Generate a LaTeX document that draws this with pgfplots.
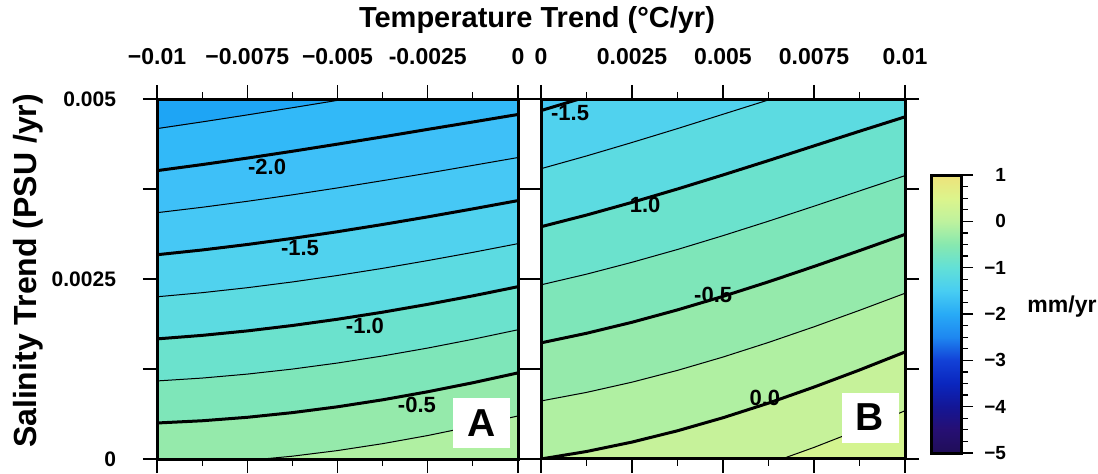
\documentclass[border=0pt]{standalone}
\usepackage{fontspec}
\setmainfont{Liberation Sans}
\usepackage{pgfplots}
\pgfplotsset{compat=1.18}

\tikzset{
  cthin/.style={black, line width=0.5bp},
  cthick/.style={black, line width=1.5bp},
  clab/.style={font=\bfseries\fontsize{11bp}{12bp}\selectfont, inner sep=0pt},
  plab/.style={fill=white, minimum width=28.5bp, minimum height=25bp, inner sep=0pt,
    font=\bfseries\fontsize{19.5bp}{22bp}\selectfont},
}
\pgfplotsset{
  colormap={cbar}{
    rgb255(0cm)=(32,14,88) rgb255(0.5cm)=(38,15,115) rgb255(1cm)=(20,22,150)
    rgb255(1.5cm)=(10,38,190) rgb255(2cm)=(18,65,215) rgb255(2.5cm)=(30,135,240)
    rgb255(3cm)=(40,170,246) rgb255(3.5cm)=(72,205,242) rgb255(4cm)=(98,224,215)
    rgb255(4.5cm)=(135,232,175) rgb255(5cm)=(190,242,158) rgb255(5.5cm)=(220,244,140)
    rgb255(6cm)=(238,226,122)
  },
  colormap={bands}{
    rgb255(0cm)=(34,14,95) rgb255(0.25cm)=(36,15,108) rgb255(0.5cm)=(34,17,124)
    rgb255(0.75cm)=(24,20,141) rgb255(1cm)=(18,26,160) rgb255(1.25cm)=(12,34,180)
    rgb255(1.5cm)=(12,45,196) rgb255(1.75cm)=(16,58,209) rgb255(2cm)=(21,80,221)
    rgb255(2.25cm)=(27,120,235) rgb255(2.5cm)=(30,165,245) rgb255(2.75cm)=(50,185,248)
    rgb255(3cm)=(62,192,248) rgb255(3.25cm)=(70,200,245) rgb255(3.5cm)=(80,210,238)
    rgb255(3.75cm)=(92,219,225) rgb255(4cm)=(107,226,205) rgb255(4.25cm)=(126,230,185)
    rgb255(4.5cm)=(149,234,171) rgb255(4.75cm)=(176,240,162) rgb255(5cm)=(198,242,154)
    rgb255(5.25cm)=(212,244,144) rgb255(5.5cm)=(224,240,136) rgb255(5.75cm)=(234,230,126)
    rgb255(6cm)=(238,226,122)
  },
  panel/.style={
    scale only axis, height=180bp,
    ymin=0, ymax=5,
    axis on top,
    point meta min=-5, point meta max=1,
    colormap name=cbar,
    xticklabel pos=upper, xtick pos=both,
    ytick={0,1.25,2.5,3.75,5},
    ytick pos=both, yticklabel pos=left,
    tick align=outside,
    major tick length=7bp, minor tick length=3.5bp,
    tick style={black, line width=0.6bp},
    axis line style={line width=1.5bp},
    xticklabel style={font=\bfseries\fontsize{11.5bp}{13bp}\selectfont, yshift=6.5bp},
    yticklabel style={font=\bfseries\fontsize{10.5bp}{13bp}\selectfont, xshift=-10bp},
  },
  field/.style={surf, shader=interp, colormap name=bands,
    colormap access=piecewise constant, point meta=explicit, mesh/cols=9},
}

\begin{document}
\begin{tikzpicture}
\useasboundingbox (-78.5bp,-7.5bp) rectangle (470.5bp,229.5bp);

% ---------------- Panel A ----------------
\begin{axis}[panel, name=A, at={(0,0)}, anchor=south west,
  width=180.5bp, xmin=-10, xmax=0,
  xtick={-10,-7.5,-5,-2.5,0},
  xticklabels={−0.01,−0.0075,−0.005,-0.0025,0},
  minor xtick={-8.75,-6.25,-3.75,-1.25},
  yticklabels={0,,0.0025,,0.005},
]
\addplot[field] table[x=x, y=y, meta=v] {
x y v
-10 0 -0.286
-8.75 0 -0.2761
-7.5 0 -0.2588
-6.25 0 -0.2341
-5 0 -0.202
-3.75 0 -0.1626
-2.5 0 -0.1158
-1.25 0 -0.0616
0 0 0.0
-10 1.25 -0.821
-8.75 1.25 -0.8031
-7.5 1.25 -0.7796
-6.25 1.25 -0.7506
-5 1.25 -0.716
-3.75 1.25 -0.6760
-2.5 1.25 -0.6304
-1.25 1.25 -0.5792
0 1.25 -0.5225
-10 2.5 -1.356
-8.75 2.5 -1.3301
-7.5 2.5 -1.3004
-6.25 2.5 -1.2671
-5 2.5 -1.230
-3.75 2.5 -1.1893
-2.5 2.5 -1.1449
-1.25 2.5 -1.0968
0 2.5 -1.045
-10 3.75 -1.891
-8.75 3.75 -1.8570
-7.5 3.75 -1.8212
-6.25 3.75 -1.7835
-5 3.75 -1.744
-3.75 3.75 -1.7027
-2.5 3.75 -1.6595
-1.25 3.75 -1.6144
0 3.75 -1.5675
-10 5 -2.426
-8.75 5 -2.384
-7.5 5 -2.342
-6.25 5 -2.300
-5 5 -2.258
-3.75 5 -2.216
-2.5 5 -2.174
-1.25 5 -2.132
0 5 -2.090
};
% contour lines, panel A
\addplot[cthin] coordinates {(-10,4.589) (-8.75,4.682) (-7.5,4.779) (-6.25,4.879) (-5,4.981) (-3.75,5.083) (-2.5,5.185) (-1.25,5.285) (0,5.383)};
\addplot[cthick] coordinates {(-10,4.005) (-8.75,4.089) (-7.5,4.179) (-6.25,4.274) (-5,4.373) (-3.75,4.474) (-2.5,4.578) (-1.25,4.681) (0,4.785)};
\addplot[cthin] coordinates {(-10,3.421) (-8.75,3.496) (-7.5,3.579) (-6.25,3.669) (-5,3.765) (-3.75,3.866) (-2.5,3.970) (-1.25,4.078) (0,4.187)};
\addplot[cthick] coordinates {(-10,2.837) (-8.75,2.903) (-7.5,2.979) (-6.25,3.064) (-5,3.157) (-3.75,3.257) (-2.5,3.363) (-1.25,3.474) (0,3.589)};
\addplot[cthin] coordinates {(-10,2.253) (-8.75,2.310) (-7.5,2.379) (-6.25,2.459) (-5,2.549) (-3.75,2.648) (-2.5,2.756) (-1.25,2.870) (0,2.991)};
\addplot[cthick] coordinates {(-10,1.668) (-8.75,1.717) (-7.5,1.779) (-6.25,1.854) (-5,1.941) (-3.75,2.039) (-2.5,2.148) (-1.25,2.266) (0,2.393)};
\addplot[cthin] coordinates {(-10,1.084) (-8.75,1.124) (-7.5,1.179) (-6.25,1.249) (-5,1.333) (-3.75,1.431) (-2.5,1.541) (-1.25,1.663) (0,1.795)};
\addplot[cthick] coordinates {(-10,0.500) (-8.75,0.531) (-7.5,0.579) (-6.25,0.644) (-5,0.725) (-3.75,0.822) (-2.5,0.934) (-1.25,1.059) (0,1.196)};
\addplot[cthin] coordinates {(-10,-0.084) (-8.75,-0.062) (-7.5,-0.021) (-6.25,0.039) (-5,0.117) (-3.75,0.213) (-2.5,0.326) (-1.25,0.455) (0,0.598)};
\node[clab] at (axis cs:-6.95,4.056) {-2.0};
\node[clab] at (axis cs:-6.04,2.93) {-1.5};
\node[clab] at (axis cs:-4.24,1.847) {-1.0};
\node[clab] at (axis cs:-2.80,0.75) {-0.5};
\node[plab] at (axis cs:-1.01,0.5) {A};
\end{axis}

% ---------------- Panel B ----------------
\begin{axis}[panel, name=B, at={(192bp,0)}, anchor=south west,
  width=182bp, xmin=0, xmax=10,
  xtick={0,2.5,5,7.5,10},
  xticklabels={0,0.0025,0.005,0.0075,0.01},
  minor xtick={1.25,3.75,6.25,8.75},
  yticklabels={},
  colorbar,
  colorbar style={
    at={(parent axis.south east)}, anchor=south west,
    xshift=4.5bp, yshift=3bp,
    scale only axis, width=15bp, height=139bp,
    ytick={-5,-4,-3,-2,-1,0,1},
    yticklabels={−5,−4,−3,−2,−1,0,1},
    minor y tick num=3,
    tick align=outside,
    ytick pos=right, yticklabel pos=right,
    major tick length=6bp, minor tick length=3.5bp,
    tick style={black, line width=0.6bp},
    axis line style={line width=1.5bp},
    yticklabel style={font=\bfseries\fontsize{9.5bp}{11bp}\selectfont,
      text width=11.5bp, align=right, xshift=1.5bp},
  },
]
\addplot[field] table[x=x, y=y, meta=v] {
x y v
0 0 0.0
1.25 0 0.0317
2.5 0 0.0706
3.75 0 0.1167
5 0 0.170
6.25 0 0.2305
7.5 0 0.2981
8.75 0 0.3730
10 0 0.455
0 1.25 -0.3875
1.25 1.25 -0.3489
2.5 1.25 -0.3049
3.75 1.25 -0.2556
5 1.25 -0.2008
6.25 1.25 -0.1406
7.5 1.25 -0.0751
8.75 1.25 -0.0041
10 1.25 0.0722
0 2.5 -0.775
1.25 2.5 -0.7296
2.5 2.5 -0.6805
3.75 2.5 -0.6278
5 2.5 -0.5715
6.25 2.5 -0.5117
7.5 2.5 -0.4482
8.75 2.5 -0.3812
10 2.5 -0.3105
0 3.75 -1.1625
1.25 3.75 -1.1102
2.5 3.75 -1.0560
3.75 3.75 -1.0001
5 3.75 -0.9423
6.25 3.75 -0.8827
7.5 3.75 -0.8214
8.75 3.75 -0.7582
10 3.75 -0.6933
0 5 -1.55
1.25 5 -1.4908
2.5 5 -1.4315
3.75 5 -1.3723
5 5 -1.313
6.25 5 -1.2538
7.5 5 -1.1945
8.75 5 -1.1353
10 5 -1.076
};
% contour lines, panel B
\addplot[cthick] coordinates {(0,4.839) (1.25,5.030) (2.5,5.228)};
\addplot[cthin] coordinates {(0,4.032) (1.25,4.209) (2.5,4.396) (3.75,4.589) (5,4.788) (6.25,4.987) (7.5,5.186) (8.75,5.380) (10,5.568)};
\addplot[cthick] coordinates {(0,3.226) (1.25,3.388) (2.5,3.564) (3.75,3.750) (5,3.945) (6.25,4.145) (7.5,4.349) (8.75,4.552) (10,4.752)};
\addplot[cthin] coordinates {(0,2.419) (1.25,2.567) (2.5,2.732) (3.75,2.910) (5,3.102) (6.25,3.303) (7.5,3.511) (8.75,3.723) (10,3.935)};
\addplot[cthick] coordinates {(0,1.613) (1.25,1.746) (2.5,1.899) (3.75,2.071) (5,2.259) (6.25,2.461) (7.5,2.674) (8.75,2.894) (10,3.119)};
\addplot[cthin] coordinates {(0,0.806) (1.25,0.925) (2.5,1.067) (3.75,1.231) (5,1.416) (6.25,1.619) (7.5,1.836) (8.75,2.065) (10,2.302)};
\addplot[cthick] coordinates {(0,0) (1.25,0.104) (2.5,0.235) (3.75,0.392) (5,0.573) (6.25,0.776) (7.5,0.999) (8.75,1.236) (10,1.486)};
\addplot[cthin] coordinates {(0,-0.806) (1.25,-0.717) (2.5,-0.597) (3.75,-0.448) (5,-0.270) (6.25,-0.066) (7.5,0.161) (8.75,0.408) (10,0.670)};
\node[clab] at (axis cs:0.80,4.806) {-1.5};
\node[clab] at (axis cs:2.86,3.53) {1.0};
\node[clab] at (axis cs:4.73,2.28) {-0.5};
\node[clab] at (axis cs:6.15,0.85) {0.0};
\node[plab] at (axis cs:9.04,0.576) {B};
\end{axis}

% titles and labels
\node[font=\bfseries\fontsize{14.5bp}{17bp}\selectfont] at (190bp,219.5bp) {Temperature Trend (°C/yr)};
\node[rotate=90, font=\bfseries\fontsize{16bp}{18bp}\selectfont] at (-64.5bp,94bp) {Salinity Trend (PSU /yr)};
\node[font=\bfseries\fontsize{11.5bp}{13bp}\selectfont] at (452.5bp,76bp) {mm/yr};
\end{tikzpicture}
\end{document}
